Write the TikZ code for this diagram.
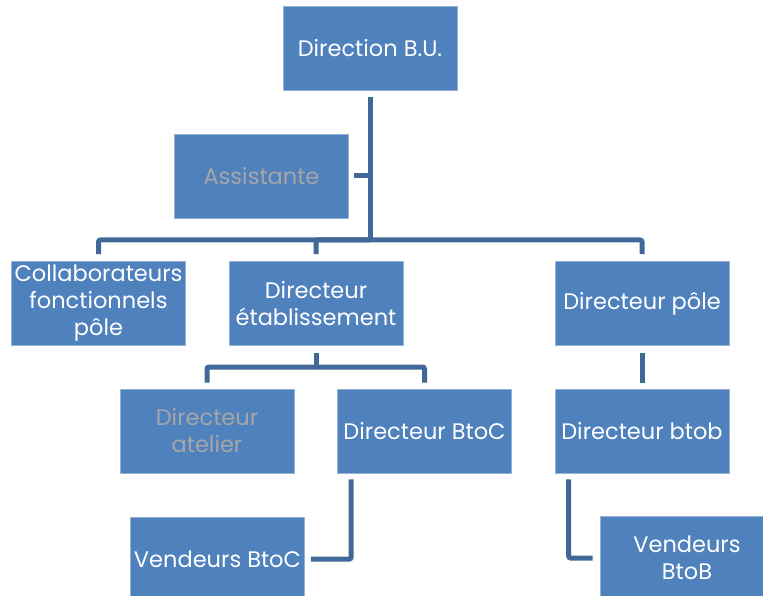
\documentclass[tikz,border=0pt]{standalone}
\usepackage{fontspec}
\setmainfont{Poppins}
\usepackage{tikz}

\definecolor{boxblue}{HTML}{4F81BD}
\definecolor{linkblue}{RGB}{65,105,152}
\definecolor{greytext}{HTML}{A6A6A6}

\tikzset{
    box/.style={fill=boxblue, draw=boxblue!60!white, line width=0.6pt,
        minimum width=174pt, minimum height=84pt, inner sep=0pt,
        align=center, text=white, font=\fontsize{22.5}{27}\selectfont},
    greybox/.style={box, text=greytext},
    link/.style={draw=linkblue, line width=5pt, rounded corners=2pt}
}

\begin{document}
\begin{tikzpicture}[x=1pt, y=-1pt]
    \useasboundingbox (0,0) rectangle (763,596);

    % top box
    \node[box] (bu) at (370,48) {Direction B.U.};
    \node[greybox] (assist) at (261.5,176) {Assistante};

    % second row
    \node[box] (collab) at (98.5,303.5) {Collaborateurs\\fonctionnels\\pôle};
    \node[box] (etab) at (316,303.5) {Directeur\\établissement};
    \node[box] (pole) at (642,303.5) {Directeur pôle};

    % third row
    \node[greybox] (atelier) at (207,431) {Directeur\\atelier};
    \node[box] (btoc) at (424.5,431) {Directeur BtoC};
    \node[box] (btob) at (642,431) {Directeur btob};

    % bottom row
    \node[box] (vbtoc) at (217.5,559) {Vendeurs BtoC};
    \node[box] (vbtob) at (687,558) {Vendeurs\\BtoB};

    % bus coordinates
    \coordinate (bus) at (370,240);
    \coordinate (bus2) at (316,367);

    % links from Direction B.U.
    \draw[link, shorten <=7pt] (bu.south) -- (bus);
    \draw[link, shorten >=5pt] (bu.south |- assist.east) -- (assist.east);
    \draw[link, shorten >=7pt] (bus) -| (collab.north);
    \draw[link, shorten >=7pt] (bus) -| (etab.north);
    \draw[link, shorten >=7pt] (bus) -| (pole.north);

    % links from Directeur etablissement
    \draw[link, shorten <=7pt] (etab.south) -- (bus2);
    \draw[link, shorten >=6pt] (bus2) -| (atelier.north);
    \draw[link, shorten >=6pt] (bus2) -| (btoc.north);

    % link pole to btob
    \draw[link, shorten <=7pt, shorten >=6pt] (pole.south) -- (btob.north);

    % sellers
    \draw[link, shorten <=6pt, shorten >=6pt] ([xshift=14pt]btoc.south west) |- (vbtoc.east);
    \draw[link, shorten <=6pt, shorten >=7pt] ([xshift=14pt]btob.south west) |- (vbtob.west);
\end{tikzpicture}
\end{document}
